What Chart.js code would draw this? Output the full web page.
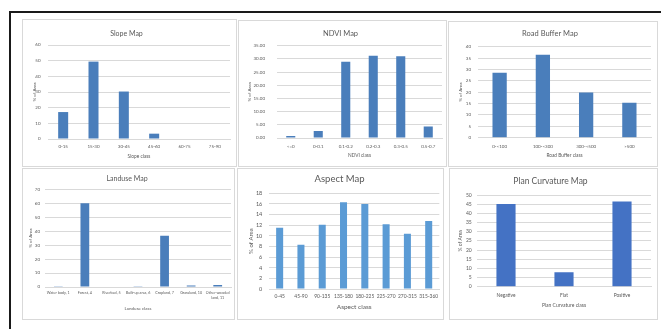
<!DOCTYPE html>
<html>
<head>
<meta charset="utf-8">
<script src="https://cdn.jsdelivr.net/npm/chart.js@4.4.1/dist/chart.umd.min.js"></script>
<style>
  html, body { margin: 0; padding: 0; background: #fff; width: 661px; height: 329px; overflow: hidden; position: relative; }
  #frame { position: absolute; left: 9px; top: 11px; width: 720px; height: 400px; border: 2px solid #1a1a1a; box-sizing: border-box; }
  .panel { position: absolute; box-sizing: border-box; border: 1px solid #d9d9d9; background: #fff; }
  .panel canvas { position: absolute; left: 0; top: 0; }
</style>
</head>
<body>
<div id="frame"></div>
<script>
// ---- data ----
const slopeClasses = ['0-15', '15-30', '30-45', '45-60', '60-75', '75-90'];
const slopeArea = [17.2, 49.4, 30.3, 3.4, 0, 0];

const ndviClasses = ['<=0', '0-0.1', '0.1-0.2', '0.2-0.3', '0.3-0.5', '0.5-0.7'];
const ndviArea = [0.76, 2.65, 28.9, 31.2, 31.0, 4.4];

const roadClasses = ['0-<100', '100-<300', '300-<500', '>500'];
const roadArea = [28.6, 36.5, 19.9, 15.4];

const landuseClasses = ['Water body, 1', 'Forest, 4', 'Riverbed, 5', 'Built-up area, 6', 'Cropland, 7', 'Grassland, 10', ['Other wooded', 'land, 11']];
const landuseArea = [0.5, 60.0, 0, 0.1, 36.8, 1.0, 1.4];

const aspectClasses = ['0-45', '45-90', '90-135', '135-180', '180-225', '225-270', '270-315', '315-360'];
const aspectArea = [11.5, 8.3, 12.1, 16.3, 16.0, 12.2, 10.4, 12.8];

const curvatureClasses = ['Negative', 'Flat', 'Positive'];
const curvatureArea = [45.1, 7.85, 46.4];

// y-axis ranges: [max, step]
const slopeAxis = [60, 10];
const ndviAxis = [35, 5];
const roadAxis = [40, 5];
const landuseAxis = [70, 10];
const aspectAxis = [18, 2];
const curvatureAxis = [50, 5];

const FONT = 'Lato';
const TEXT = '#595959';
const GRID = '#d9d9d9';

function drawPanel(s) {
  const [px, py, pw, ph] = s.panel;
  const div = document.createElement('div');
  div.className = 'panel';
  Object.assign(div.style, { left: px + 'px', top: py + 'px', width: pw + 'px', height: ph + 'px' });
  const cv = document.createElement('canvas');
  const W = pw - 2, H = ph - 2;
  cv.width = W; cv.height = H;
  cv.style.width = W + 'px'; cv.style.height = H + 'px';
  div.appendChild(cv);
  document.body.appendChild(div);

  const ox = px + 1, oy = py + 1;
  const [L, T, R, B] = s.area;
  const tfs = s.titleSize;
  const titlePadTop = s.titleY - oy - tfs / 2;
  const titlePadBottom = (T - oy) - titlePadTop - tfs;
  const yAxisW = L - ox;
  const xTitleLH = s.xTitleSize * 1.2;
  const xAxisH = s.xTitleY + xTitleLH / 2 - B;
  const bottomPad = H - (B - oy) - xAxisH;
  const rightPad = W - (R - ox);
  const tickLH = s.tickSize * 1.2;
  const yTitleLH = s.yTitleSize * 1.2;
  const [max, step] = s.axis;

  new Chart(cv, {
    type: 'bar',
    data: {
      labels: s.labels,
      datasets: [{ data: s.values, backgroundColor: s.color, barPercentage: 0.33, categoryPercentage: 1 }]
    },
    options: {
      responsive: false,
      animation: false,
      devicePixelRatio: 1,
      layout: { padding: { left: 0, top: 0, right: rightPad, bottom: bottomPad } },
      plugins: {
        legend: { display: false },
        tooltip: { enabled: false },
        title: {
          display: true, text: s.title, color: TEXT,
          font: { family: FONT, size: tfs, lineHeight: 1, weight: 'normal' },
          padding: { top: titlePadTop, bottom: titlePadBottom }
        }
      },
      scales: {
        x: {
          grid: { display: false, drawTicks: false },
          border: { display: true, color: GRID },
          ticks: {
            color: TEXT, autoSkip: false, maxRotation: 0, minRotation: 0,
            font: { family: FONT, size: s.tickSize, lineHeight: 1.2 },
            padding: s.xTickY - B - tickLH / 2
          },
          title: {
            display: true, text: s.xTitle, color: TEXT,
            font: { family: FONT, size: s.xTitleSize, lineHeight: 1.2 }, padding: 0
          },
          afterFit(sc) { sc.height = xAxisH; }
        },
        y: {
          min: 0, max: max,
          grid: { color: GRID, drawTicks: false },
          border: { display: false },
          ticks: {
            stepSize: step, color: TEXT,
            font: { family: FONT, size: s.yTickSize },
            padding: L - s.yTickRight,
            callback: v => s.decimals ? Number(v).toFixed(s.decimals) : v
          },
          title: {
            display: true, text: '% of Area', color: TEXT,
            font: { family: FONT, size: s.yTitleSize, lineHeight: 1.2 },
            padding: { top: s.yTitleX - ox - yTitleLH / 2, bottom: 0 }
          },
          afterFit(sc) { sc.width = yAxisW; }
        }
      }
    }
  });
}

drawPanel({
  panel: [22, 19, 215, 148], area: [48, 45, 230, 139],
  title: 'Slope Map', titleY: 34, titleSize: 7,
  labels: slopeClasses, values: slopeArea, axis: slopeAxis, color: '#4a7ebb',
  tickSize: 4.5, xTickY: 147, xTitle: 'Slope class', xTitleY: 156, xTitleSize: 4.8,
  yTickSize: 4.5, yTickRight: 40.5, yTitleX: 34.5, yTitleSize: 4.5
});

drawPanel({
  panel: [238, 20, 209, 147], area: [277, 45.7, 442, 138],
  title: 'NDVI Map', titleY: 34, titleSize: 7.5,
  labels: ndviClasses, values: ndviArea, axis: ndviAxis, color: '#4a7ebb', decimals: 2,
  tickSize: 4.5, xTickY: 146.7, xTitle: 'NDVI class', xTitleY: 155.7, xTitleSize: 4.8,
  yTickSize: 4.5, yTickRight: 265, yTitleX: 250, yTitleSize: 4.5
});

drawPanel({
  panel: [448, 21, 210, 146], area: [478, 46.7, 651, 137.7],
  title: 'Road Buffer Map', titleY: 34, titleSize: 7.5,
  labels: roadClasses, values: roadArea, axis: roadAxis, color: '#4a7ebb',
  tickSize: 4.5, xTickY: 146.7, xTitle: 'Road Buffer class', xTitleY: 155.7, xTitleSize: 4.8,
  yTickSize: 4.5, yTickRight: 471, yTitleX: 460.7, yTitleSize: 4.5
});

drawPanel({
  panel: [22, 168, 213, 152], area: [45, 189.3, 231, 287],
  title: 'Landuse Map', titleY: 178.3, titleSize: 7,
  labels: landuseClasses, values: landuseArea, axis: landuseAxis, color: '#4a7ebb',
  tickSize: 3.7, xTickY: 293.3, xTitle: 'Landuse class', xTitleY: 309, xTitleSize: 4.5,
  yTickSize: 4.5, yTickRight: 40, yTitleX: 30.7, yTitleSize: 4.5
});

drawPanel({
  panel: [237, 168, 207, 152], area: [269, 193.3, 441, 289],
  title: 'Aspect Map', titleY: 179.3, titleSize: 9.5,
  labels: aspectClasses, values: aspectArea, axis: aspectAxis, color: '#5b9bd5',
  tickSize: 4.9, xTickY: 296.7, xTitle: 'Aspect class', xTitleY: 306.7, xTitleSize: 6.5,
  yTickSize: 5.5, yTickRight: 262.3, yTitleX: 250.7, yTitleSize: 6
});

drawPanel({
  panel: [449, 168, 209, 152], area: [477, 195, 651, 286.7],
  title: 'Plan Curvature Map', titleY: 181.7, titleSize: 8.5,
  labels: curvatureClasses, values: curvatureArea, axis: curvatureAxis, color: '#4472c4',
  tickSize: 4.8, xTickY: 295, xTitle: 'Plan Curvature class', xTitleY: 305.7, xTitleSize: 5,
  yTickSize: 5, yTickRight: 471.7, yTitleX: 460.7, yTitleSize: 5
});
</script>
</body>
</html>
